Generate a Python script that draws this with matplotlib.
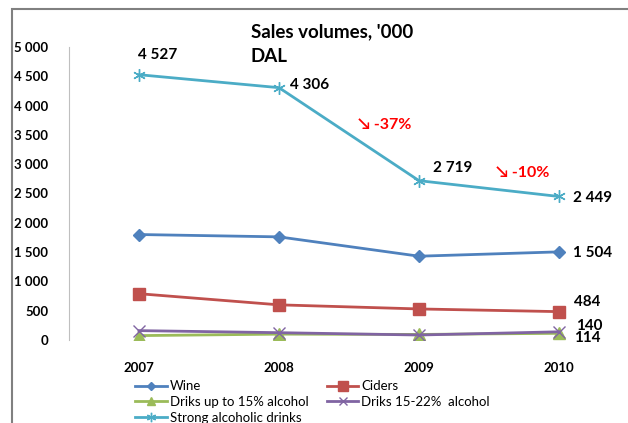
import matplotlib
matplotlib.use("Agg")
import matplotlib.pyplot as plt
from matplotlib.patches import Rectangle
from matplotlib.ticker import FuncFormatter

plt.rcParams['font.family'] = ['Lato', 'DejaVu Sans']

# Daten
years = ["2007", "2008", "2009", "2010"]
wine = [1800, 1760, 1430, 1504]
ciders = [790, 600, 530, 484]
up_to_15 = [75, 100, 95, 114]
drinks_15_22 = [160, 125, 85, 140]
strong = [4527, 4306, 2719, 2449]
change_labels = ["\u2198 -37%", "\u2198 -10%"]

x = range(len(years))

fig = plt.figure(figsize=(6.28, 4.23), dpi=100)
ax = fig.add_axes([69 / 628, 83 / 423, 560 / 628, 293 / 423])

# Rahmen um das Diagramm
fig.patches.append(Rectangle((12 / 628, -0.1), 1.2, (423 - 9) / 423 + 0.1,
                             transform=fig.transFigure, fill=False,
                             edgecolor='#808080', linewidth=1.5))

l_wine, = ax.plot(x, wine, color='#4F81BD', lw=2, marker='D', ms=6, label='Wine')
l_cid, = ax.plot(x, ciders, color='#C0504D', lw=2, marker='s', ms=9, label='Ciders')
l_up, = ax.plot(x, up_to_15, color='#9BBB59', lw=2, marker='^', ms=8, label='Driks up to 15% alcohol')
l_mid, = ax.plot(x, drinks_15_22, color='#8064A2', lw=2, marker='x', ms=8, mew=1,
                 label='Driks 15-22%  alcohol')
l_str, = ax.plot(x, strong, color='#4BACC6', lw=2, marker=(6, 2, 0), ms=9, mew=1,
                 label='Strong alcoholic drinks')

ax.set_xlim(-0.5, 3.5)
ax.set_ylim(0, 5000)
ax.set_yticks(range(0, 5001, 500))
ax.yaxis.set_major_formatter(FuncFormatter(lambda v, p: f"{int(v):,}".replace(",", " ")))
ax.set_xticks(list(x))
ax.set_xticklabels(years)
ax.tick_params(axis='both', length=0, labelsize=9.5)
ax.tick_params(axis='x', pad=16)
ax.tick_params(axis='y', pad=15)
for lab in ax.get_xticklabels() + ax.get_yticklabels():
    lab.set_fontweight('bold')

for s in ['top', 'right', 'bottom']:
    ax.spines[s].set_visible(False)
ax.spines['left'].set_color('#BFBFBF')

# Datenbeschriftungen
lbl = dict(textcoords='offset pixels', fontsize=11, fontweight='bold', va='center')
fmt = lambda v: f"{v:,}".replace(",", " ")
ax.annotate(fmt(strong[0]), (0, strong[0]), xytext=(19, 20), ha='center', **lbl)
ax.annotate(fmt(strong[1]), (1, strong[1]), xytext=(11, 3), ha='left', **lbl)
ax.annotate(fmt(strong[2]), (2, strong[2]), xytext=(14, 13), ha='left', **lbl)
ax.annotate(fmt(strong[3]), (3, strong[3]), xytext=(14, -2), ha='left', **lbl)
ax.annotate(fmt(wine[3]), (3, wine[3]), xytext=(14, -1), ha='left', **lbl)
ax.annotate(fmt(ciders[3]), (3, ciders[3]), xytext=(15, 10), ha='left', **lbl)
ax.annotate(fmt(drinks_15_22[3]), (3, drinks_15_22[3]), xytext=(17, 6), ha='left', **lbl)
ax.annotate(fmt(up_to_15[3]), (3, up_to_15[3]), xytext=(15, -5), ha='left', **lbl)

# Veränderungen in Rot
ax.annotate(change_labels[0], (1, strong[1]), xytext=(79, -37), textcoords='offset pixels',
            color='red', fontsize=11.5, fontweight='bold', ha='left', va='center')
ax.annotate(change_labels[1], (2, strong[2]), xytext=(77, 8), textcoords='offset pixels',
            color='red', fontsize=11.5, fontweight='bold', ha='left', va='center')

fig.text(251 / 628, 1 - 44 / 423, "Sales volumes, '000\nDAL", fontsize=13.5,
         fontweight='bold', ha='left', va='center', linespacing=1.5)

fig.legend(handles=[l_wine, l_up, l_str, l_cid, l_mid], ncol=2, frameon=False,
           loc='upper left', bbox_to_anchor=(130 / 628, 1 - 375 / 423),
           fontsize=9.5, handlelength=2.4, handletextpad=0.2, columnspacing=1.4,
           labelspacing=0.28, borderaxespad=0, markerscale=0.75)

fig.savefig("out.png", dpi=100)
